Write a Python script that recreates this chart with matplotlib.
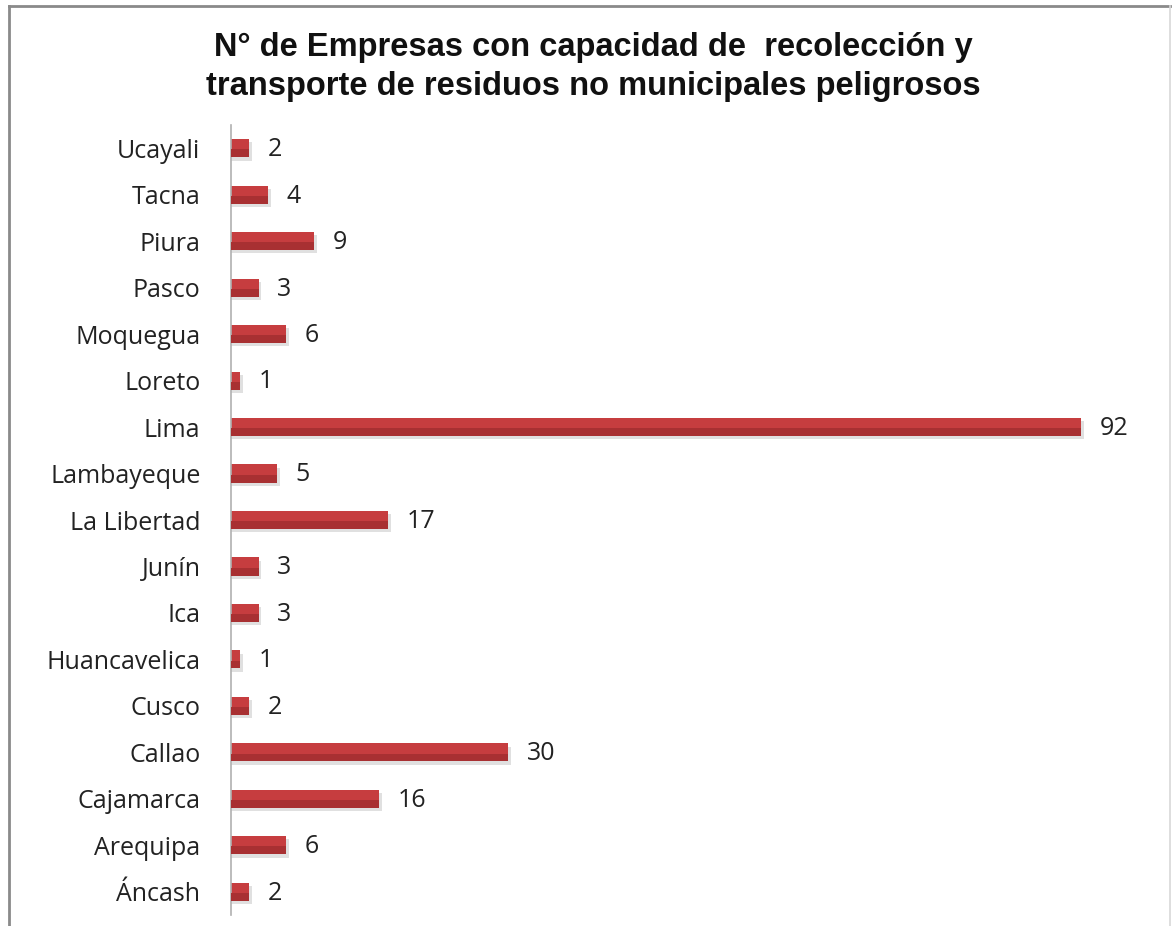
import matplotlib.pyplot as plt
from matplotlib.lines import Line2D

# data, top to bottom as in the chart
regiones = ['Ucayali', 'Tacna', 'Piura', 'Pasco', 'Moquegua', 'Loreto', 'Lima',
            'Lambayeque', 'La Libertad', 'Junín', 'Ica', 'Huancavelica', 'Cusco',
            'Callao', 'Cajamarca', 'Arequipa', 'Áncash']
empresas = [2, 4, 9, 3, 6, 1, 92, 5, 17, 3, 3, 1, 2, 30, 16, 6, 2]

titulo = 'N° de Empresas con capacidad de  recolección y\ntransporte de residuos no municipales peligrosos'

label_font = ['Open Sans', 'DejaVu Sans']

fig = plt.figure(figsize=(11.72, 9.26), dpi=100)
ax = fig.add_axes([231 / 1172, 11 / 926, 924 / 1172, 790 / 926])

pos = list(range(len(regiones)))
# soft shadow under each bar
ax.barh([p + 0.07 for p in pos], [v + 0.3 for v in empresas], height=0.39,
        color='#999999', alpha=0.3, zorder=1)
ax.barh(pos, empresas, height=0.39, color='#c63d3f', zorder=2)
# darker lower part for the bevel look
ax.barh([p + 0.11 for p in pos], empresas, height=0.17, color='#a83032', zorder=3)

for p, v in zip(pos, empresas):
    ax.text(v + 2.0, p + 0.03, str(v), va='center', ha='left', fontsize=18,
            family=label_font, color='#222222')

ax.set_ylim(len(regiones) - 0.5, -0.5)
ax.set_xlim(0, 100)
ax.set_yticks(pos)
ax.set_yticklabels(regiones, fontsize=18, family=label_font, color='#222222')
ax.tick_params(axis='y', length=0, pad=22)
ax.set_xticks([])
for s in ['top', 'right', 'bottom']:
    ax.spines[s].set_visible(False)
ax.spines['left'].set_color('#b0b0b0')
ax.spines['left'].set_linewidth(1.2)

fig.text(593 / 1172, 1 - 67 / 926, titulo, ha='center', va='center',
         fontsize=23.5, fontweight='bold', family='Liberation Sans',
         linespacing=1.3, color='#111111')

# chart frame
fig.add_artist(Line2D([9 / 1172, 1170 / 1172], [1 - 6 / 926, 1 - 6 / 926],
                      color='#8a8a8a', lw=2, transform=fig.transFigure))
fig.add_artist(Line2D([9.5 / 1172, 9.5 / 1172], [0, 1 - 6 / 926],
                      color='#8a8a8a', lw=2, transform=fig.transFigure))
fig.add_artist(Line2D([1170 / 1172, 1170 / 1172], [0, 1 - 6 / 926],
                      color='#d8d8d8', lw=1.2, transform=fig.transFigure))

fig.savefig('out.png', dpi=100)
